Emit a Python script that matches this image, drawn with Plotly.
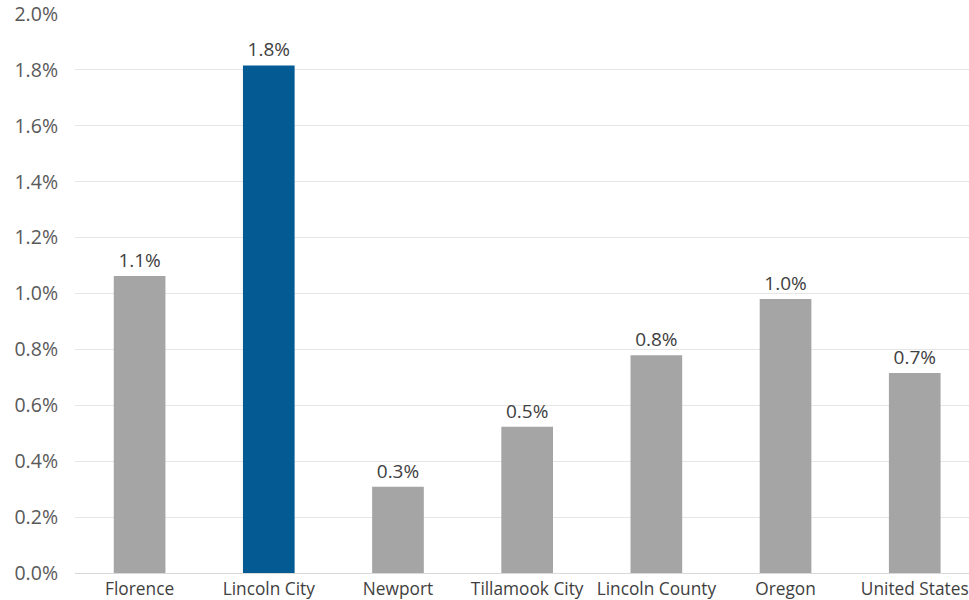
import plotly.graph_objects as go

# Annual growth rate by place
places = ["Florence", "Lincoln City", "Newport", "Tillamook City",
          "Lincoln County", "Oregon", "United States"]
growth = [0.01063, 0.01816, 0.00309, 0.00523, 0.00779, 0.00980, 0.00716]
highlight = "Lincoln City"

GRAY = "#a5a5a5"
BLUE = "#045a93"
colors = [BLUE if p == highlight else GRAY for p in places]

FONT = "Open Sans"

fig = go.Figure(
    go.Bar(
        x=places,
        y=growth,
        marker=dict(color=colors, line=dict(width=0)),
        texttemplate="%{y:.1%}",
        textposition="outside",
        cliponaxis=False,
        textfont=dict(family=FONT, size=19, color="#404040"),
        hoverinfo="skip",
    )
)

fig.update_layout(
    width=969,
    height=600,
    margin=dict(l=75, r=0, t=13, b=26),
    paper_bgcolor="white",
    plot_bgcolor="white",
    bargap=0.6,
    showlegend=False,
    font=dict(family=FONT, size=18, color="#595959"),
)

fig.update_xaxes(
    range=[-0.5, 6.42],
    showgrid=False,
    showline=True,
    linecolor="#d9d9d9",
    linewidth=1,
    ticks="",
    ticklabeloverflow="allow",
    tickfont=dict(family=FONT, size=17.3, color="#404040"),
    fixedrange=True,
)

fig.update_yaxes(
    range=[0, 0.02],
    dtick=0.002,
    tickformat=".1%",
    showgrid=True,
    gridcolor="#e6e6e6",
    gridwidth=1,
    zeroline=False,
    showline=False,
    ticks="",
    ticklabelstandoff=16,
    ticklabeloverflow="allow",
    tickfont=dict(family=FONT, size=19.5, color="#595959"),
    fixedrange=True,
)

fig.write_html("out.html")
